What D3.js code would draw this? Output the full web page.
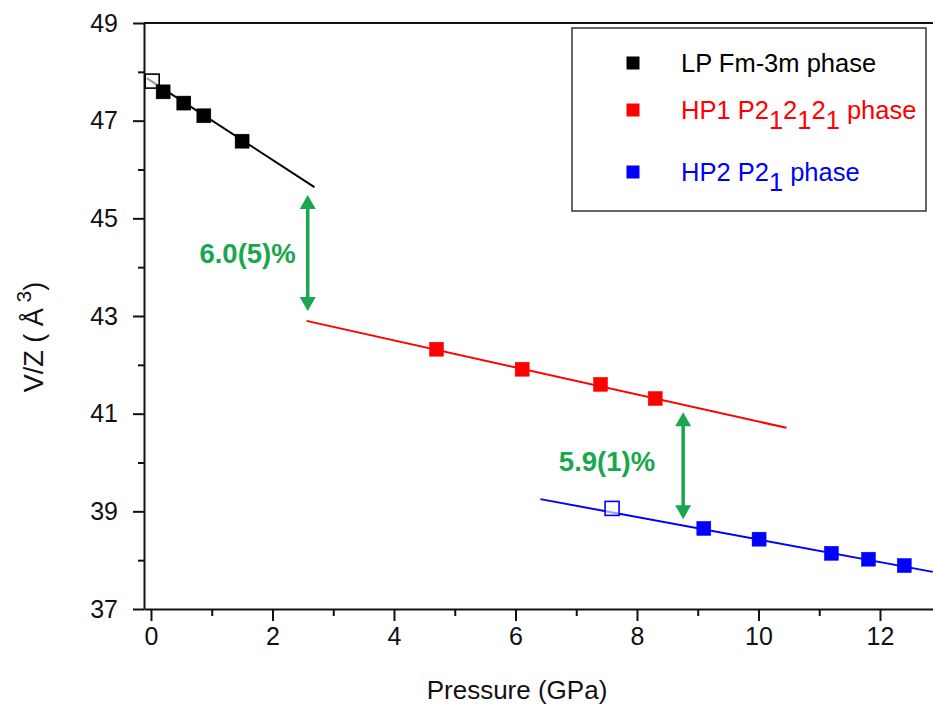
<html>
<head>
<meta charset="utf-8">
<style>
body { margin: 0; background: #fff; }
svg text { font-family: "Liberation Sans", Arial, sans-serif; }
</style>
</head>
<body>
<div id="chart"></div>
<script src="https://d3js.org/d3.v7.min.js"></script>
<script>

var black = "#000000"
var red = "#ff0000"
var blue = "#0000ff"
var green = "#1aa64d"

// LP Fm-3m phase
var lpP = [0.20, 0.54, 0.87, 1.50]
var lpV = [47.59, 47.36, 47.10, 46.58]
var lpOpenP = [0.02]
var lpOpenV = [47.81]
var lpFitP = [-0.07, 2.69]
var lpFitV = [47.87, 45.64]

// HP1 P212121 phase
var hp1P = [4.70, 6.11, 7.40, 8.30]
var hp1V = [42.32, 41.91, 41.60, 41.31]
var hp1FitP = [2.56, 10.46]
var hp1FitV = [42.90, 40.71]

// HP2 P21 phase
var hp2P = [9.10, 10.01, 11.20, 11.81, 12.40]
var hp2V = [38.65, 38.43, 38.14, 38.02, 37.89]
var hp2OpenP = [7.59]
var hp2OpenV = [39.06]
var hp2FitP = [6.41, 12.87]
var hp2FitV = [39.25, 37.76]

// volume jumps
var gapP = [2.58, 8.76]
var gapTop = [45.48, 41.03]
var gapBottom = [43.10, 38.84]
var gapLabel = ["6.0(5)%", "5.9(1)%"]

var xMajor = [0, 2, 4, 6, 8, 10, 12]
var xMinor = [1, 3, 5, 7, 9, 11, 13]
var yMajor = [37, 39, 41, 43, 45, 47, 49]
var yMinor = [38, 40, 42, 44, 46, 48]

var W = 933, H = 713

var svg = d3.select("#chart")
  .append("svg")
  .attr("width", W)
  .attr("height", H)

var x = d3.scaleLinear()
  .domain([-0.115, 13.2])
  .range([144, 144 + 13.315 * 60.75])

var y = d3.scaleLinear()
  .domain([37, 49])
  .range([609, 23])

function zip(a, b){ return a.map((d, i) => [d, b[i]]) }

// frame top line
svg.append("line")
  .attr("x1", x.range()[0]).attr("x2", W)
  .attr("y1", y(49)).attr("y2", y(49))
  .attr("stroke", "#111").attr("stroke-width", 2)

// x axis
var gx = svg.append("g")
  .attr("transform", "translate(0," + y(37) + ")")
gx.call(d3.axisBottom(x).tickValues(xMajor).tickSize(12).tickSizeOuter(0).tickPadding(6))
gx.append("g").call(d3.axisBottom(x).tickValues(xMinor).tickSize(7).tickFormat(""))
  .select(".domain").remove()
gx.selectAll(".domain").attr("stroke-width", 2).attr("stroke", "#111")
gx.selectAll(".tick line").attr("stroke-width", 2).attr("stroke", "#111")
gx.selectAll(".tick text").attr("font-size", 25).attr("fill", "#111")
  .style("font-family", "'Liberation Sans', Arial, sans-serif")

// y axis
var gy = svg.append("g")
  .attr("transform", "translate(" + x.range()[0] + ",0)")
gy.call(d3.axisLeft(y).tickValues(yMajor).tickSize(11).tickSizeOuter(0).tickPadding(15))
gy.append("g").call(d3.axisLeft(y).tickValues(yMinor).tickSize(6).tickFormat(""))
  .select(".domain").remove()
gy.selectAll(".domain").attr("stroke-width", 2).attr("stroke", "#111")
gy.selectAll(".tick line").attr("stroke-width", 2).attr("stroke", "#111")
gy.selectAll(".tick text").attr("font-size", 25).attr("fill", "#111")
  .style("font-family", "'Liberation Sans', Arial, sans-serif")

// axis titles
svg.append("text")
  .attr("x", 517).attr("y", 699)
  .attr("text-anchor", "middle")
  .attr("font-size", 26).attr("fill", "#111")
  .text("Pressure (GPa)")

var yt = svg.append("text")
  .attr("transform", "translate(43,337) rotate(-90)")
  .attr("text-anchor", "middle")
  .attr("font-size", 27).attr("fill", "#111")
yt.append("tspan").text("V/Z ( Å")
yt.append("tspan").attr("font-size", 21).attr("dy", -12).text(" 3")
yt.append("tspan").attr("dy", 12).text(")")

// fit lines
var line = d3.line().x(d => x(d[0])).y(d => y(d[1]))
var fits = [[lpFitP, lpFitV, black], [hp1FitP, hp1FitV, red], [hp2FitP, hp2FitV, blue]]
fits.forEach(function(f){
  svg.append("path")
    .datum(zip(f[0], f[1]))
    .attr("d", line)
    .attr("fill", "none")
    .attr("stroke", f[2])
    .attr("stroke-width", 2)
})

// squares
var S = 14
function squares(P, V, color, open){
  svg.append("g").selectAll("rect")
    .data(zip(P, V))
    .enter().append("rect")
    .attr("x", d => x(d[0]) - S / 2)
    .attr("y", d => y(d[1]) - S / 2)
    .attr("width", S).attr("height", S)
    .attr("fill", open ? "#fff" : color)
    .attr("fill-opacity", open ? 0.6 : 1)
    .attr("stroke", color)
    .attr("stroke-width", open ? 1.6 : 0.5)
}
squares(lpOpenP, lpOpenV, black, true)
squares(lpP, lpV, black, false)
squares(hp1P, hp1V, red, false)
squares(hp2OpenP, hp2OpenV, blue, true)
squares(hp2P, hp2V, blue, false)

// double arrows for the volume jumps
var labelGap = [12, 28]
var ah = 14, aw = 8
gapP.forEach(function(p, i){
  var cx = x(p), t = y(gapTop[i]), b = y(gapBottom[i])
  var g = svg.append("g")
  g.append("line")
    .attr("x1", cx).attr("x2", cx)
    .attr("y1", t + ah - 1).attr("y2", b - ah + 1)
    .attr("stroke", green).attr("stroke-width", 3.5)
  g.append("path")
    .attr("d", "M" + cx + "," + t + "L" + (cx + aw) + "," + (t + ah) + "L" + (cx - aw) + "," + (t + ah) + "Z")
    .attr("fill", green)
  g.append("path")
    .attr("d", "M" + cx + "," + b + "L" + (cx + aw) + "," + (b - ah) + "L" + (cx - aw) + "," + (b - ah) + "Z")
    .attr("fill", green)
  g.append("text")
    .attr("x", cx - labelGap[i])
    .attr("y", (t + b) / 2 + 10 - i * 5)
    .attr("text-anchor", "end")
    .attr("font-size", 27.5)
    .attr("font-weight", "bold")
    .attr("fill", green)
    .text(gapLabel[i])
})

// legend
var legend = svg.append("g")
legend.append("rect")
  .attr("x", 572).attr("y", 28)
  .attr("width", 354).attr("height", 183)
  .attr("fill", "#fff")
  .attr("stroke", "#333").attr("stroke-width", 1.5)

var legRows = [
  {color: black, parts: [["LP Fm-3m phase", 0]]},
  {color: red, parts: [["HP1 P2", 0], ["1", 1], ["2", 0], ["1", 1], ["2", 0], ["1", 1], [" phase", 0]]},
  {color: blue, parts: [["HP2 P2", 0], ["1", 1], [" phase", 0]]}
]
var legY = [63, 110, 172]
legRows.forEach(function(r, i){
  legend.append("rect")
    .attr("x", 633 - 6.5).attr("y", legY[i] - 6.5)
    .attr("width", 13).attr("height", 13)
    .attr("fill", r.color)
  var t = legend.append("text")
    .attr("x", 681).attr("y", legY[i] + 9)
    .attr("font-size", 25.5)
    .attr("fill", r.color)
  var low = 0
  r.parts.forEach(function(p){
    var dy = p[1] ? 10 - low : -low
    low = p[1] ? 10 : 0
    t.append("tspan").attr("dy", dy).text(p[0])
  })
})

</script>
</body>
</html>
